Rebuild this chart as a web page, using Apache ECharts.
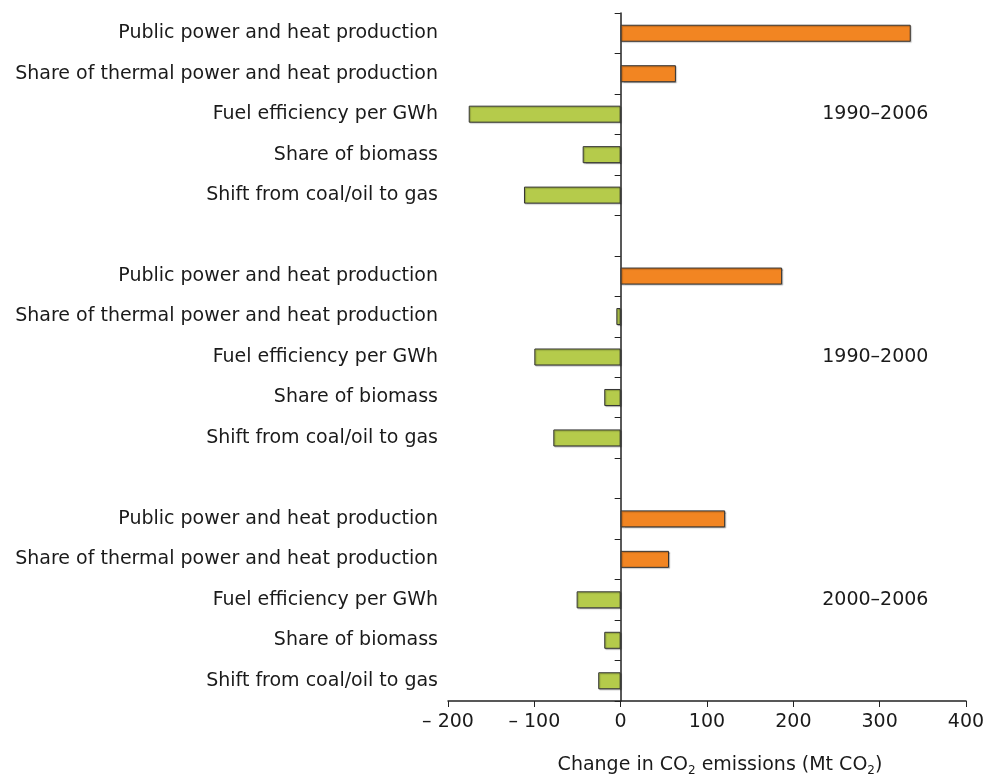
<!DOCTYPE html>
<html>
<head>
<meta charset="utf-8">
<script src="https://cdn.jsdelivr.net/npm/echarts@6/dist/echarts.min.js"></script>
<style>
  html, body { margin: 0; padding: 0; background: #fff; }
  #chart { width: 995px; height: 777px; }
</style>
</head>
<body>
<div id="chart"></div>
<script>
// factors, repeated for each period (blank rows separate the groups)
var factors = [
  'Public power and heat production',
  'Share of thermal power and heat production',
  'Fuel efficiency per GWh',
  'Share of biomass',
  'Shift from coal/oil to gas'
];
var periods = ['1990–2006', '1990–2000', '2000–2006'];

// change in CO2 emissions, Mt CO2
var values1990_2006 = [336, 64, -176, -44, -112];
var values1990_2000 = [187, -5, -100, -19, -78];
var values2000_2006 = [121, 56, -51, -19, -26];

var xTicks = [-200, -100, 0, 100, 200, 300, 400];

var textColor = '#1a1a1a';
var orange = '#f28522';
var green = '#b5cb4b';

var categories = factors.concat([''], factors, [''], factors);
var values = values1990_2006.concat([null], values1990_2000, [null], values2000_2006);
// period label sits on the "Fuel efficiency" row of each group
var periodRows = [2, 8, 14];

document.addEventListener('DOMContentLoaded', function() {
  var chart = echarts.init(document.getElementById('chart'));

  var barData = values.map(function(v) {
    if (v === null) return null;
    return {
      value: v,
      itemStyle: { color: v > 0 ? orange : green }
    };
  });

  var option = {
    animation: false,
    backgroundColor: '#fff',
    textStyle: { fontFamily: 'DejaVu Sans', color: textColor },
    grid: {
      left: 448, right: 29, top: 13, bottom: 76,
      containLabel: false,
      outerBoundsMode: 'none'
    },
    xAxis: {
      type: 'value',
      min: xTicks[0],
      max: xTicks[xTicks.length - 1],
      interval: 100,
      axisLine: { show: true, lineStyle: { color: '#222', width: 1.5 } },
      axisTick: { show: true, length: 6, lineStyle: { color: '#222' } },
      splitLine: { show: false },
      axisLabel: {
        fontSize: 19,
        margin: 12,
        color: textColor,
        formatter: function(v) { return v < 0 ? '– ' + Math.abs(v) : String(v); }
      },
      name: 'Change in CO{sub|2} emissions (Mt CO{sub|2})',
      nameLocation: 'middle',
      nameGap: 52,
      nameTextStyle: {
        fontSize: 19,
        color: textColor,
        padding: [0, 0, 0, 26],
        rich: {
          sub: { fontSize: 12, padding: [12, 0, 0, 0], color: textColor }
        }
      }
    },
    yAxis: [
      {
        type: 'category',
        data: categories,
        inverse: true,
        axisLine: { show: true, onZero: true, lineStyle: { color: '#222', width: 1.5 } },
        axisTick: { show: true, length: 6, interval: 0, lineStyle: { color: '#222' } },
        axisLabel: { show: false }
      },
      {
        type: 'category',
        data: categories,
        inverse: true,
        position: 'left',
        axisLine: { show: false, onZero: false },
        axisTick: { show: false },
        axisLabel: { interval: 0, fontSize: 19, margin: 10, color: textColor }
      }
    ],
    series: [
      {
        type: 'bar',
        yAxisIndex: 0,
        data: barData,
        barWidth: 17,
        itemStyle: {
          borderColor: '#333',
          borderWidth: 1,
          shadowColor: 'rgba(0,0,0,0.25)',
          shadowOffsetX: 1,
          shadowOffsetY: 1,
          shadowBlur: 1
        }
      },
      {
        type: 'scatter',
        yAxisIndex: 0,
        symbolSize: 0,
        silent: true,
        itemStyle: { opacity: 1 },
        data: periodRows.map(function(r) { return [295, r]; }),
        label: {
          show: true,
          position: 'inside',
          fontSize: 19,
          color: textColor,
          opacity: 1,
          formatter: function(p) { return periods[p.dataIndex]; }
        }
      }
    ]
  };

  chart.setOption(option);
});
</script>
</body>
</html>
